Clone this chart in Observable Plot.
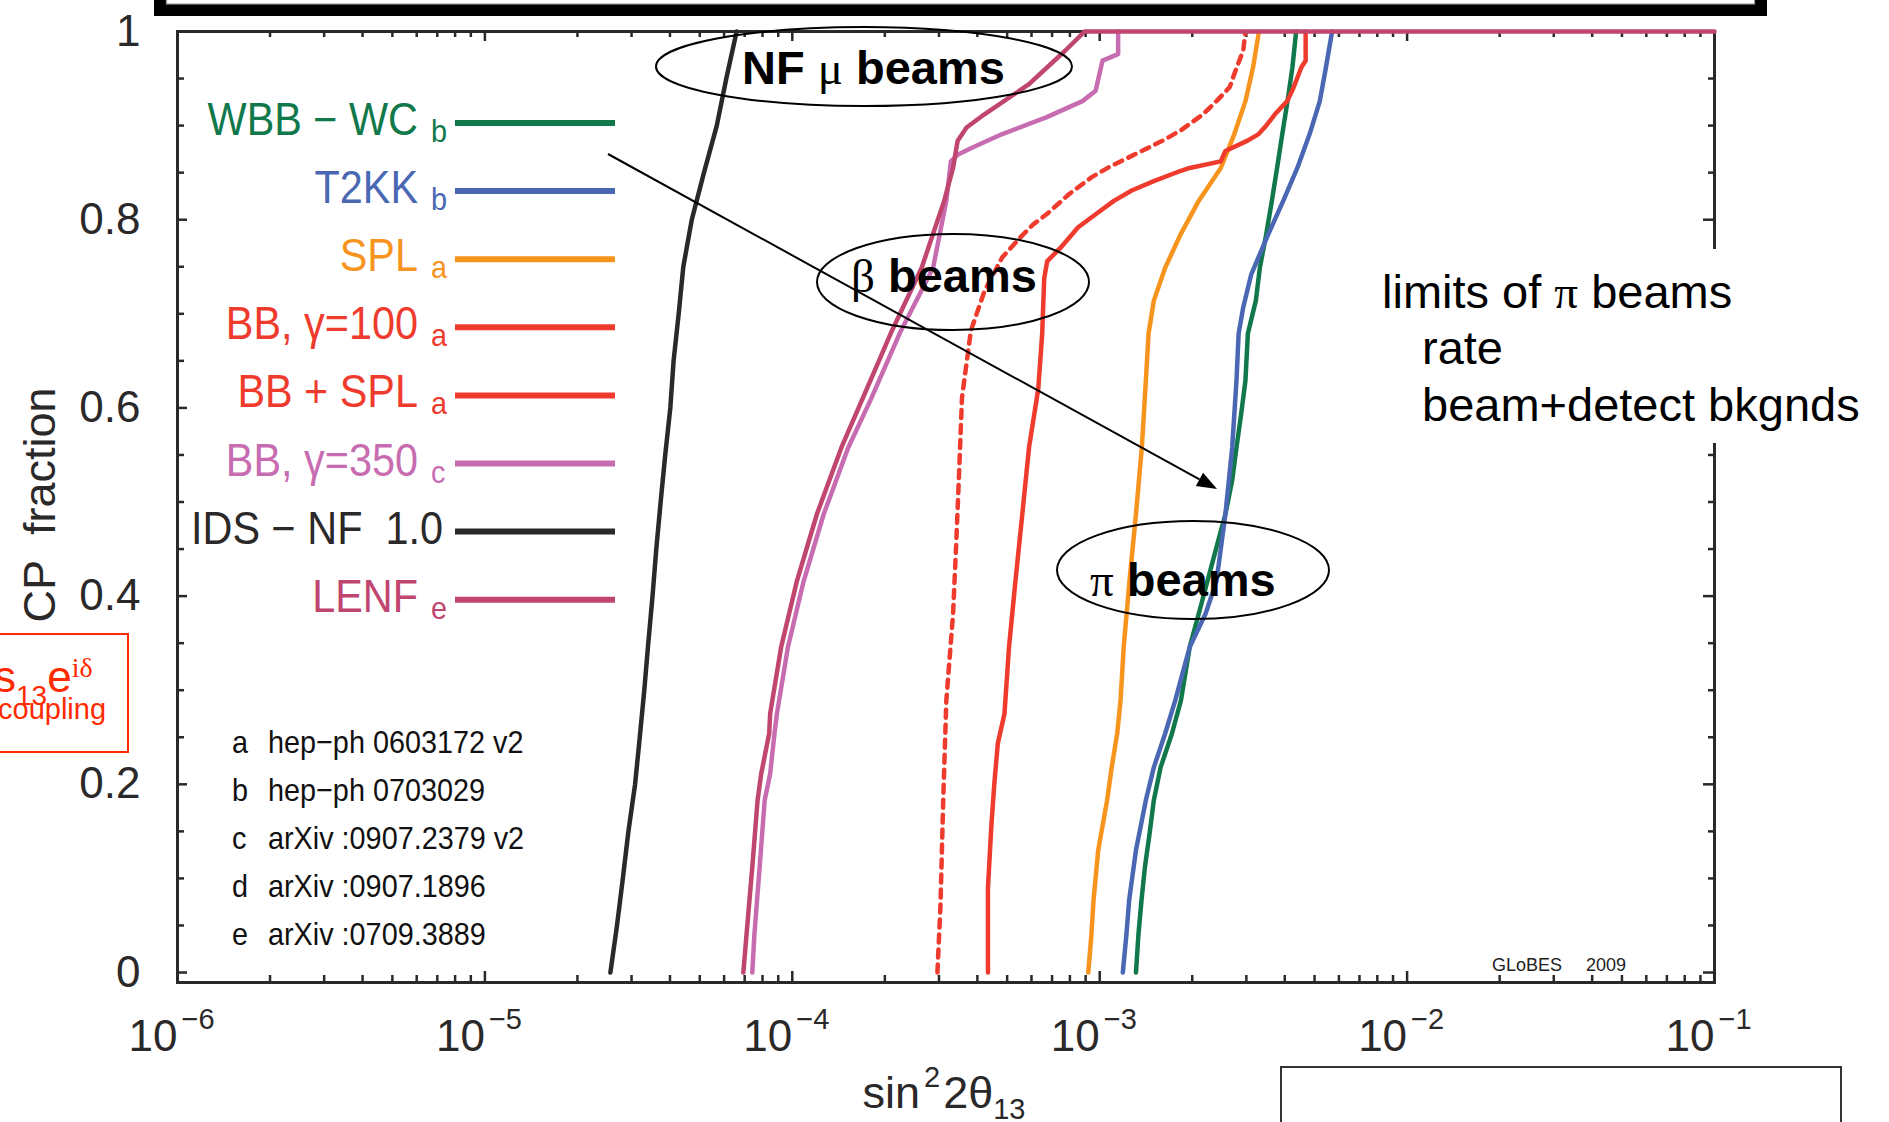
<!DOCTYPE html>
<html>
<head>
<meta charset="utf-8">
<script src="https://cdn.jsdelivr.net/npm/d3@7"></script>
<script src="https://cdn.jsdelivr.net/npm/@observablehq/plot@0.6"></script>
<style>
  html, body { margin: 0; padding: 0; background: #fff; }
  #chart { width: 1889px; height: 1122px; overflow: hidden; position: relative; }
  #chart svg { display: block; }
</style>
</head>
<body>
<div id="chart"></div>
<script>
// ---------------- data ----------------
// x: sin^2 2theta13 reach, f: CP fraction
const wbbFrac = [0,0.041,0.077,0.112,0.147,0.183,0.218,0.254,0.289,0.346,0.381,0.452,0.487,0.523,0.558,0.593,0.629,0.679,0.714,0.749,0.785,0.82,0.855,0.891,0.926,0.962,1];
const wbbX    = [1.312e-3,1.337e-3,1.368e-3,1.403e-3,1.452e-3,1.500e-3,1.578e-3,1.718e-3,1.837e-3,1.963e-3,2.099e-3,2.399e-3,2.564e-3,2.698e-3,2.786e-3,2.884e-3,2.979e-3,3.034e-3,3.221e-3,3.319e-3,3.483e-3,3.631e-3,3.776e-3,3.926e-3,4.083e-3,4.236e-3,4.355e-3];

const t2kkFrac = [0,0.041,0.077,0.13,0.183,0.218,0.254,0.289,0.346,0.381,0.416,0.487,0.558,0.629,0.679,0.707,0.742,0.785,0.82,0.855,0.891,0.926,0.962,1];
const t2kkX    = [1.189e-3,1.222e-3,1.247e-3,1.312e-3,1.413e-3,1.500e-3,1.633e-3,1.760e-3,1.963e-3,2.208e-3,2.399e-3,2.564e-3,2.698e-3,2.786e-3,2.831e-3,2.931e-3,3.112e-3,3.540e-3,3.954e-3,4.395e-3,4.819e-3,5.200e-3,5.445e-3,5.702e-3];

const splFrac = [0,0.041,0.077,0.13,0.183,0.218,0.254,0.289,0.346,0.416,0.487,0.558,0.629,0.679,0.714,0.749,0.785,0.82,0.855,0.891,0.926,0.962,1];
const splX    = [9.18e-4,9.40e-4,9.55e-4,9.89e-4,1.057e-3,1.094e-3,1.140e-3,1.169e-3,1.197e-3,1.250e-3,1.312e-3,1.371e-3,1.413e-3,1.442e-3,1.500e-3,1.633e-3,1.837e-3,2.099e-3,2.477e-3,2.742e-3,2.979e-3,3.155e-3,3.296e-3];

const bb100Frac = [0,0.09,0.155,0.2,0.243,0.275,0.346,0.416,0.487,0.558,0.62,0.679,0.738,0.756,0.77,0.792,0.806,0.82,0.831,0.841,0.852,0.855,0.862,0.873,0.884,0.891,0.901,0.912,0.926,0.94,0.962,0.969,1];
const bb100X    = [4.33e-4,4.33e-4,4.44e-4,4.54e-4,4.66e-4,4.90e-4,5.07e-4,5.32e-4,5.60e-4,5.89e-4,6.31e-4,6.50e-4,6.60e-4,6.75e-4,7.45e-4,8.51e-4,9.73e-4,1.112e-3,1.271e-3,1.500e-3,1.837e-3,1.963e-3,2.477e-3,2.564e-3,3.027e-3,3.289e-3,3.500e-3,3.715e-3,4.074e-3,4.266e-3,4.530e-3,4.677e-3,4.677e-3];

const bbsplFrac = [0,0.071,0.183,0.289,0.381,0.452,0.523,0.611,0.682,0.724,0.760,0.781,0.795,0.806,0.827,0.845,0.856,0.870,0.884,0.895,0.912,0.926,0.941,0.955,0.980,1];
const bbsplX    = [2.965e-4,3.034e-4,3.097e-4,3.170e-4,3.334e-4,3.410e-4,3.480e-4,3.565e-4,3.810e-4,4.217e-4,4.820e-4,5.510e-4,6.080e-4,6.730e-4,7.940e-4,9.400e-4,1.074e-3,1.312e-3,1.603e-3,1.837e-3,2.168e-3,2.399e-3,2.649e-3,2.742e-3,2.931e-3,2.979e-3];

const bb350Frac = [0,0.041,0.112,0.183,0.211,0.254,0.275,0.346,0.416,0.487,0.558,0.608,0.679,0.749,0.82,0.862,0.869,0.876,0.891,0.909,0.926,0.937,0.969,0.976,1];
const bb350X    = [7.41e-5,7.53e-5,7.83e-5,8.13e-5,8.47e-5,8.75e-5,8.91e-5,9.68e-5,1.089e-4,1.265e-4,1.521e-4,1.795e-4,2.234e-4,2.871e-4,3.170e-4,3.280e-4,3.450e-4,3.810e-4,4.820e-4,6.730e-4,8.790e-4,9.700e-4,1.021e-3,1.148e-3,1.148e-3];

const idsFrac = [0,0.05,0.1,0.15,0.2,0.25,0.3,0.35,0.4,0.45,0.5,0.55,0.6,0.65,0.7,0.75,0.8,0.85,0.9,0.95,1];
const idsX    = [2.56e-5,2.69e-5,2.81e-5,2.93e-5,3.08e-5,3.19e-5,3.30e-5,3.40e-5,3.51e-5,3.61e-5,3.73e-5,3.86e-5,4.01e-5,4.11e-5,4.27e-5,4.42e-5,4.71e-5,5.16e-5,5.68e-5,6.10e-5,6.59e-5];

const lenfFrac = [0,0.041,0.112,0.183,0.211,0.254,0.275,0.346,0.416,0.487,0.558,0.629,0.679,0.749,0.82,0.855,0.884,0.898,0.912,0.944,0.979,1,1];
const lenfX    = [6.93e-5,7.10e-5,7.41e-5,7.71e-5,7.92e-5,8.41e-5,8.47e-5,9.20e-5,1.035e-4,1.202e-4,1.445e-4,1.795e-4,2.089e-4,2.636e-4,3.119e-4,3.334e-4,3.451e-4,3.690e-4,4.217e-4,5.888e-4,7.690e-4,8.930e-4,1e-1];

// legend categories
const legendLabels = ["WBB − WC", "T2KK", "SPL", "BB, γ=100", "BB + SPL", "BB, γ=350", "IDS − NF\u00a0\u00a01.0", "LENF"];
const legendRefs   = ["b", "b", "a", "a", "a", "c", "", "e"];
const refLetters = ["a", "b", "c", "d", "e"];
const refTexts   = ["hep−ph 0603172 v2", "hep−ph 0703029", "arXiv :0907.2379 v2", "arXiv :0907.1896", "arXiv :0709.3889"];
const noteLines  = ["limits of ", "rate", "beam+detect bkgnds"];

// tick labels
const xTickValues = [1e-6, 1e-5, 1e-4, 1e-3, 1e-2, 1e-1];
const xTickExponents = ["−6", "−5", "−4", "−3", "−2", "−1"];
const yTickValues = [0, 0.2, 0.4, 0.6, 0.8, 1];
const yTickLabels = ["0", "0.2", "0.4", "0.6", "0.8", "1"];
const yMinorTicks = [0.05,0.1,0.15,0.25,0.3,0.35,0.45,0.5,0.55,0.65,0.7,0.75,0.85,0.9,0.95];
const xMinorTicks = xTickValues.slice(0, -1).flatMap(d => [2,3,4,5,6,7,8,9].map(m => m * d));

// ---------------- styles ----------------
const INK = "#2b2829";
const C = {wbb: "#10784a", t2kk: "#4a67b3", spl: "#f7941e", red: "#ef3b2d", bb350: "#c86cb1", ids: "#2b2829", lenf: "#c0456f"};
const legendColors = [C.wbb, C.t2kk, C.spl, C.red, C.red, C.bb350, C.ids, C.lenf];
const FONT = "'Liberation Sans', Arial, Helvetica, sans-serif";
const SERIF = "'Liberation Serif', 'Times New Roman', serif";

const W = 1889, H = 1122, mL = 177, mR = 175, mT = 31, mB = 140;
const fw = W - mL - mR, fh = H - mT - mB;

const rows = (xs, fs) => xs.map((x, i) => ({x, f: fs[i]}));
const curve = (xs, fs, color, extra = {}) =>
  Plot.line(rows(xs, fs), {x: "x", y: "f", stroke: color, strokeWidth: 4.5, strokeLinejoin: "round", ...extra});

const plot = Plot.plot({
  width: W, height: H,
  marginLeft: mL, marginRight: mR, marginTop: mT, marginBottom: mB,
  x: {type: "log", domain: [1e-6, 1e-1], axis: null},
  y: {domain: [-0.0106, 1], axis: null},
  style: {fontFamily: FONT, background: "#ffffff", color: INK},
  marks: [
    Plot.frame({stroke: INK, strokeWidth: 3}),
    // inward ticks
    Plot.tickX(xTickValues, {x: d => d, stroke: INK, strokeWidth: 2.5, insetTop: fh - 11}),
    Plot.tickX(xTickValues, {x: d => d, stroke: INK, strokeWidth: 2.5, insetBottom: fh - 10}),
    Plot.tickX(xMinorTicks, {x: d => d, stroke: INK, strokeWidth: 2.5, insetTop: fh - 7}),
    Plot.tickX(xMinorTicks, {x: d => d, stroke: INK, strokeWidth: 2.5, insetBottom: fh - 6}),
    Plot.tickY(yTickValues, {y: d => d, stroke: INK, strokeWidth: 2.5, insetRight: fw - 10}),
    Plot.tickY(yTickValues, {y: d => d, stroke: INK, strokeWidth: 2.5, insetLeft: fw - 11}),
    Plot.tickY(yMinorTicks, {y: d => d, stroke: INK, strokeWidth: 2.5, insetRight: fw - 7}),
    Plot.tickY(yMinorTicks, {y: d => d, stroke: INK, strokeWidth: 2.5, insetLeft: fw - 6}),
    // curves
    curve(wbbX, wbbFrac, C.wbb),
    curve(t2kkX, t2kkFrac, C.t2kk),
    curve(splX, splFrac, C.spl),
    curve(bb100X, bb100Frac, C.red),
    curve(bbsplX, bbsplFrac, C.red, {strokeDasharray: "8,7", strokeLinejoin: "miter"}),
    curve(bb350X, bb350Frac, C.bb350),
    curve(idsX, idsFrac, C.ids),
    curve(lenfX, lenfFrac, C.lenf),
    // tick labels
    Plot.text(xTickValues, {x: d => d, frameAnchor: "bottom", text: () => "10", textAnchor: "end", lineAnchor: "bottom", dy: 68, fontSize: 44, fill: INK, ariaLabel: "xlab"}),
    Plot.text(xTickValues, {x: d => d, frameAnchor: "bottom", text: (d, i) => xTickExponents[i], textAnchor: "start", lineAnchor: "bottom", dx: 4, dy: 46, fontSize: 29, fill: INK, ariaLabel: "xexp"}),
    Plot.text(yTickValues, {y: d => d, frameAnchor: "left", text: (d, i) => yTickLabels[i], textAnchor: "end", lineAnchor: "middle", dx: -37, fontSize: 44, fill: INK, ariaLabel: "ylab"}),
    Plot.text(["CP\u00a0\u00a0fraction"], {frameAnchor: "left", text: d => d, rotate: -90, textAnchor: "middle", lineAnchor: "bottom", dx: -123, dy: -2, fontSize: 45, fill: INK, ariaLabel: "ytitle"})
  ]
});

document.getElementById("chart").appendChild(plot);

// condense the tick-label font slightly, like the original figure
function squeeze(sel, s) {
  plot.querySelectorAll(sel).forEach(t => {
    let tr = t.getAttribute("transform") || "";
    const x = t.getAttribute("x");
    if (x !== null && /^-?[\d.]+$/.test(x)) { tr += ` translate(${x},0)`; t.removeAttribute("x"); }
    t.setAttribute("transform", `${tr} scale(${s},1)`);
  });
}
squeeze('g[aria-label="xlab"] text', 0.9);
squeeze('g[aria-label="xexp"] text', 0.9);
squeeze('g[aria-label="ylab"] text', 0.9);

// ---------------- annotations ----------------
const svg = d3.select(plot);
const g = svg.append("g").attr("font-family", FONT).attr("text-anchor", "start");

// thick frame of the box above the plot
g.append("rect").attr("x", 154).attr("y", -40).attr("width", 1613).attr("height", 56).attr("fill", "#000");
g.append("rect").attr("x", 166.5).attr("y", -40).attr("width", 1588).attr("height", 44).attr("fill", "#fff").attr("stroke", "#9a9a9a").attr("stroke-width", 1.2);

// box at the bottom right
g.append("rect").attr("x", 1281).attr("y", 1067).attr("width", 560).attr("height", 120)
  .attr("fill", "none").attr("stroke", "#333").attr("stroke-width", 2);

// legend
legendLabels.forEach((lab, i) => {
  const y = 123 + i * 68.1;
  const col = legendColors[i];
  g.append("line").attr("x1", 455).attr("x2", 615).attr("y1", y).attr("y2", y)
    .attr("stroke", col).attr("stroke-width", 6);
  const hasRef = legendRefs[i] !== "";
  g.append("text").attr("transform", `translate(${hasRef ? 418 : 443},${y + 12}) scale(0.9,1)`)
    .attr("text-anchor", "end").attr("font-size", 46).attr("fill", col).text(lab);
  if (hasRef) {
    g.append("text").attr("transform", `translate(431,${y + 19}) scale(0.9,1)`)
      .attr("text-anchor", "start").attr("font-size", 32).attr("fill", col).text(legendRefs[i]);
  }
});

// reference list
refLetters.forEach((l, i) => {
  const y = 753 + i * 48;
  g.append("text").attr("transform", `translate(232,${y}) scale(0.9,1)`).attr("font-size", 32).attr("fill", "#111").text(l);
  g.append("text").attr("transform", `translate(268,${y}) scale(0.9,1)`).attr("font-size", 32).attr("fill", "#111").text(refTexts[i]);
});

// GLoBES stamp
g.append("text").attr("x", 1492).attr("y", 971).attr("font-size", 18).attr("fill", "#222").text("GLoBES");
g.append("text").attr("x", 1586).attr("y", 971).attr("font-size", 18).attr("fill", "#222").text("2009");

// ellipses with beam labels
function ellipse(cx, cy, rx, ry) {
  g.append("ellipse").attr("cx", cx).attr("cy", cy).attr("rx", rx).attr("ry", ry)
    .attr("fill", "none").attr("stroke", "#000").attr("stroke-width", 2);
}
ellipse(864, 66.5, 208, 39.5);
ellipse(953, 282, 136, 48);
ellipse(1193, 570, 136, 49);

function beamLabel(x, y, pre, greek, post) {
  const t = g.append("text").attr("x", x).attr("y", y).attr("font-size", 47).attr("font-weight", "bold").attr("fill", "#000");
  if (pre) t.append("tspan").text(pre);
  t.append("tspan").attr("font-family", SERIF).attr("font-weight", "normal").text(greek);
  t.append("tspan").text(post);
}
beamLabel(742, 84, "NF\u00a0", "μ", "\u00a0beams");
beamLabel(851, 292, "", "β", "\u00a0beams");
beamLabel(1090, 596, "", "π", "\u00a0beams");

// arrow from legend area to the pi-beam curves
{
  const x1 = 608, y1 = 154, x2 = 1217, y2 = 489;
  const len = Math.hypot(x2 - x1, y2 - y1), ux = (x2 - x1) / len, uy = (y2 - y1) / len;
  const hl = 20, hw = 7.5;
  const bx = x2 - ux * hl, by = y2 - uy * hl;
  g.append("line").attr("x1", x1).attr("y1", y1).attr("x2", bx).attr("y2", by).attr("stroke", "#000").attr("stroke-width", 2);
  g.append("path").attr("d", `M${x2},${y2}L${bx - uy * hw},${by + ux * hw}L${bx + uy * hw},${by - ux * hw}Z`).attr("fill", "#000");
}

// right-hand note, on white over the right axis
g.append("rect").attr("x", 1370).attr("y", 249).attr("width", 519).attr("height", 194).attr("fill", "#fff");
{
  const t = g.append("text").attr("x", 1382).attr("y", 308).attr("font-size", 47).attr("fill", "#000");
  t.append("tspan").text(noteLines[0]);
  t.append("tspan").attr("font-family", SERIF).text("π");
  t.append("tspan").text("\u00a0beams");
  g.append("text").attr("x", 1422).attr("y", 364).attr("font-size", 47).attr("fill", "#000").text(noteLines[1]);
  g.append("text").attr("x", 1422).attr("y", 421).attr("font-size", 47).attr("fill", "#000").text(noteLines[2]);
}

// red coupling box at the left edge
{
  const RED = "#ff2a00";
  g.append("rect").attr("x", -40).attr("y", 634).attr("width", 168).attr("height", 118)
    .attr("fill", "#fff").attr("stroke", RED).attr("stroke-width", 2);
  const t = g.append("text").attr("x", -6).attr("y", 692).attr("fill", RED).attr("font-size", 44);
  t.append("tspan").text("s");
  t.append("tspan").attr("font-size", 28).attr("dy", 13).text("13");
  t.append("tspan").attr("dy", -13).text("e");
  t.append("tspan").attr("font-size", 28).attr("dy", -15).attr("font-family", SERIF).text("iδ");
  g.append("text").attr("x", -2).attr("y", 719).attr("fill", RED).attr("font-size", 29).text("coupling");
}

// x-axis title: sin^2 2θ13
{
  const t = g.append("text").attr("x", 944).attr("y", 1108).attr("text-anchor", "middle")
    .attr("font-size", 45).attr("fill", INK);
  t.append("tspan").text("sin");
  t.append("tspan").attr("font-size", 29).attr("dy", -21).attr("dx", 4).text("2");
  t.append("tspan").attr("dy", 21).attr("dx", 3).text("2θ");
  t.append("tspan").attr("font-size", 29).attr("dy", 11).text("13");
}
</script>
</body>
</html>
